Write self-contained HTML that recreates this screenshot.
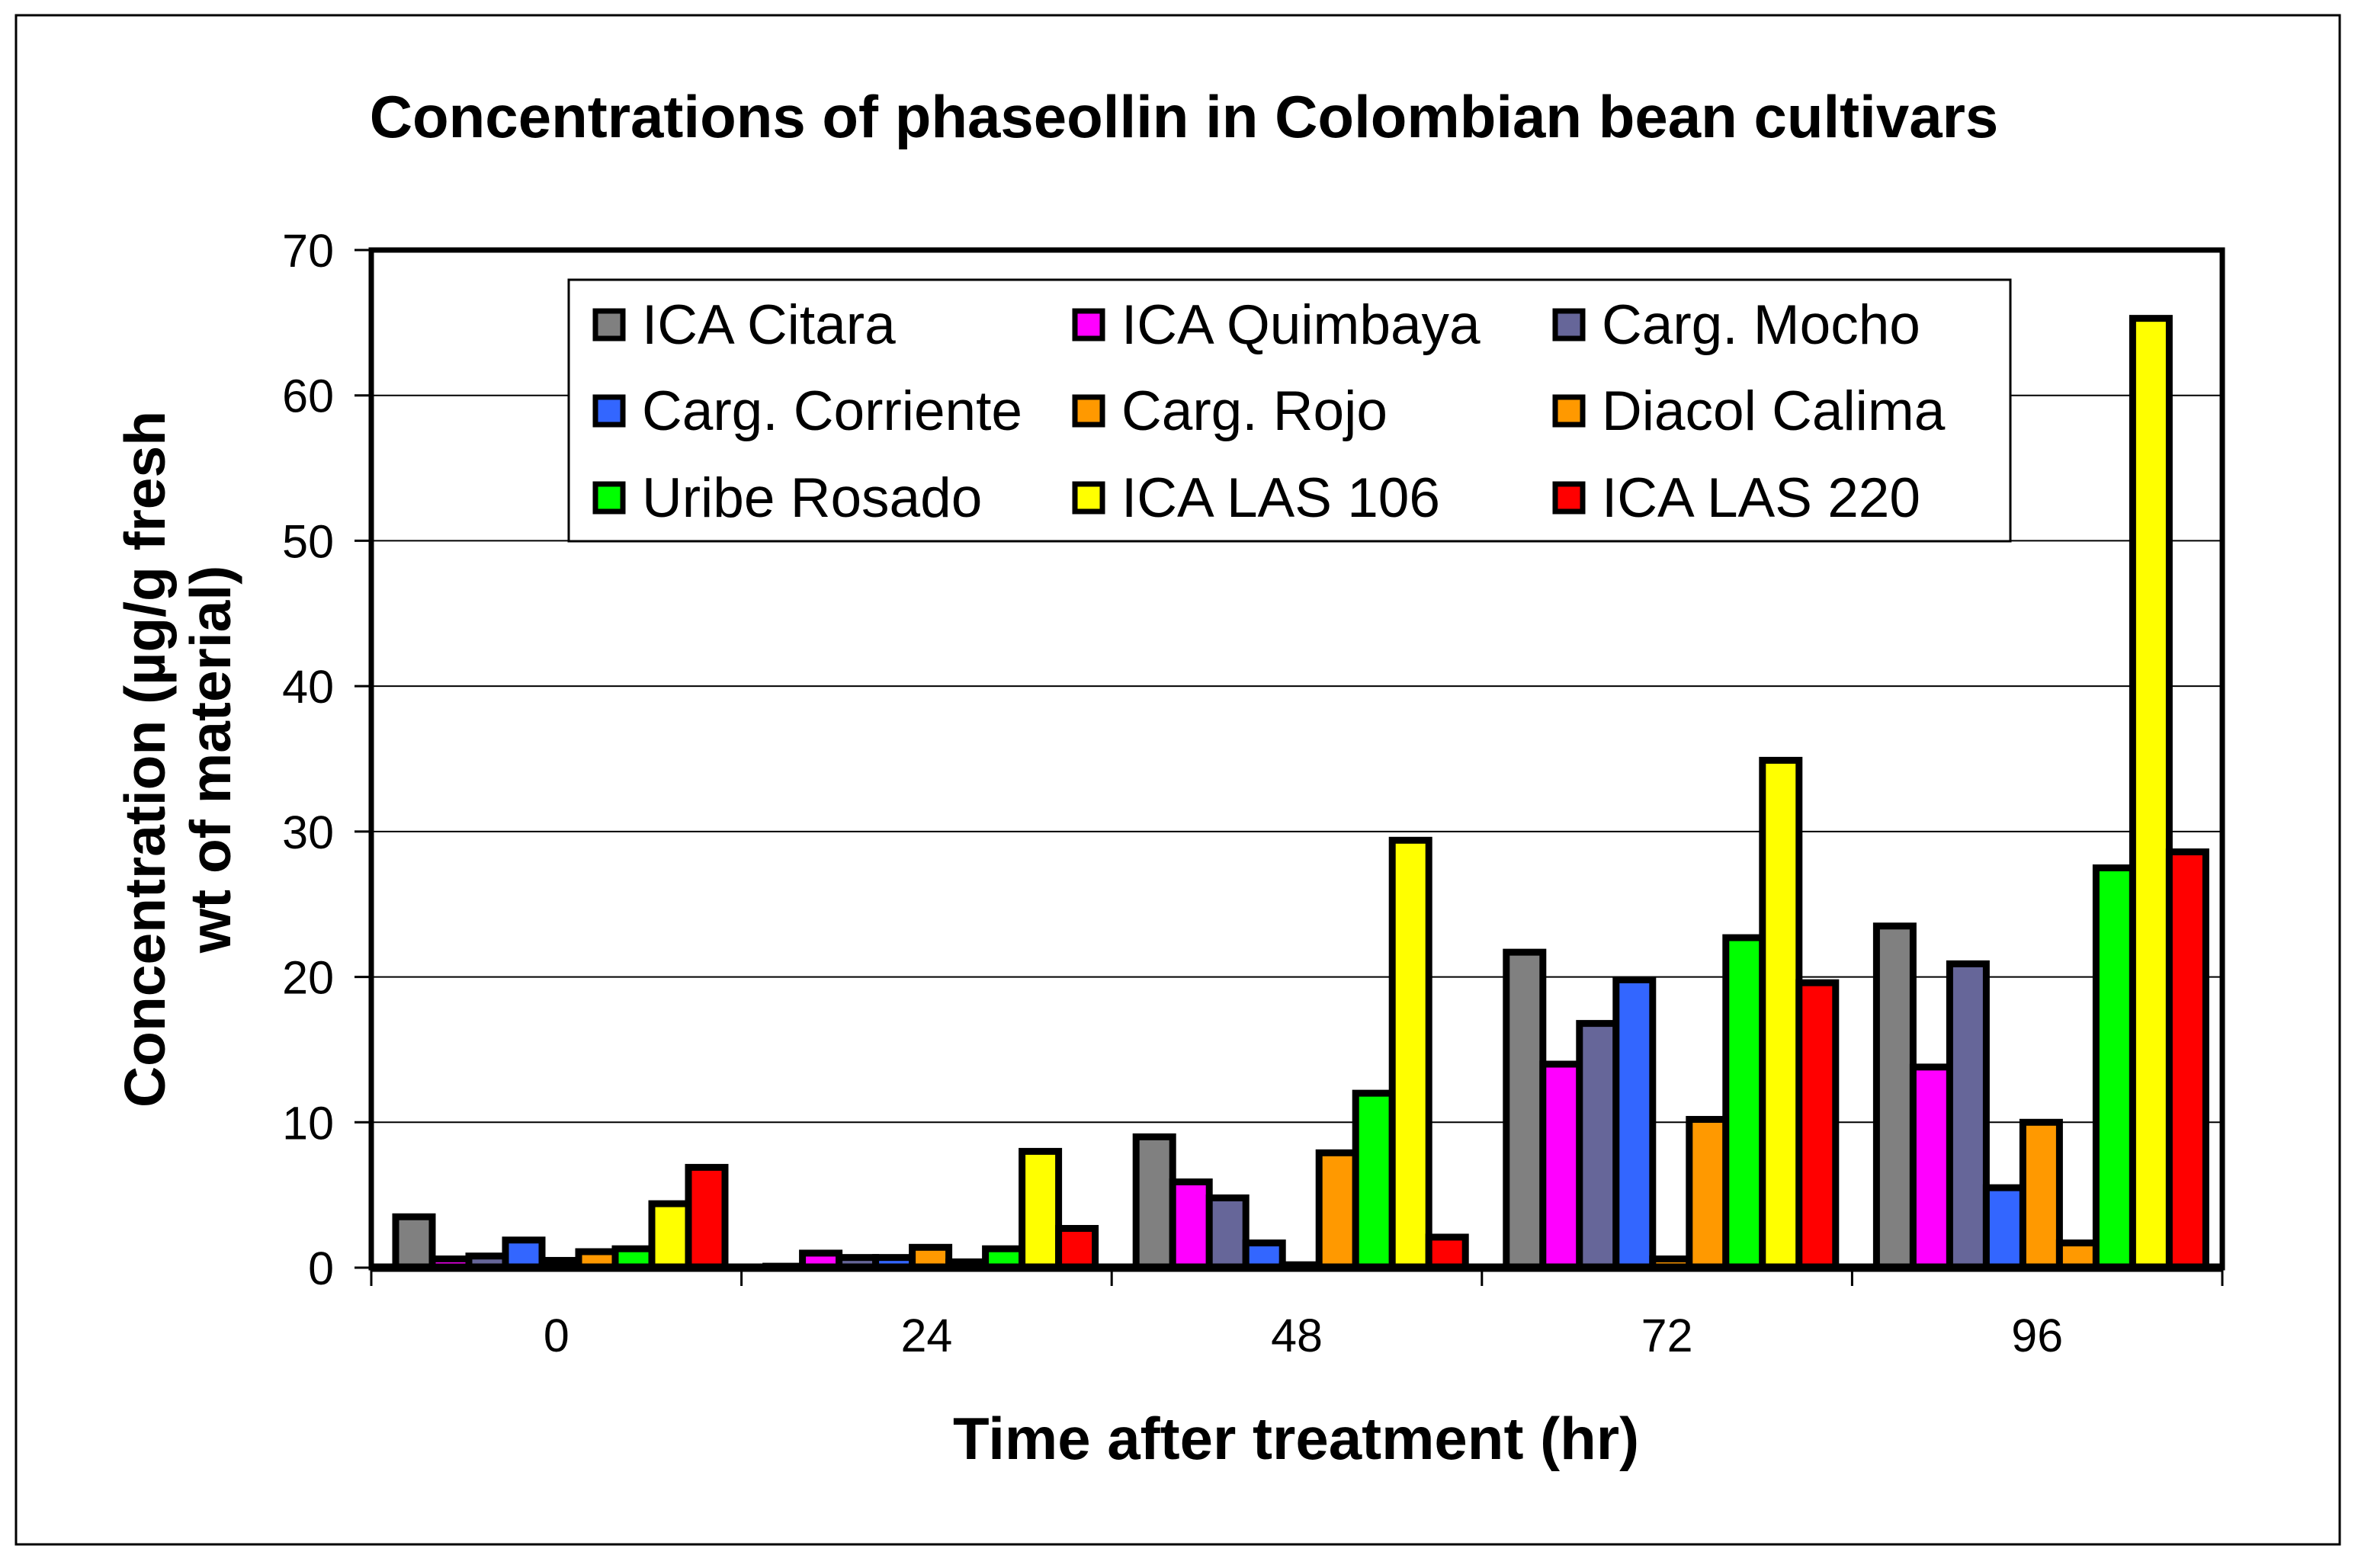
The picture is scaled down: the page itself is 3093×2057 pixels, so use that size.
<!DOCTYPE html>
<html><head><meta charset="utf-8"><style>
html,body{margin:0;padding:0;background:#fff}
svg{display:block;font-family:"Liberation Sans",Arial,sans-serif}
</style></head><body>
<svg id="chart" width="3093" height="2057" viewBox="0 0 3093 2057" xmlns="http://www.w3.org/2000/svg">
<rect x="21" y="20" width="3048" height="2006" fill="#fff" stroke="#000" stroke-width="3"/>
<text x="1553" y="180" font-size="78" font-weight="bold" text-anchor="middle">Concentrations of phaseollin in Colombian bean cultivars</text>
<g id="grid"></g>
<g id="bars"></g>
<g id="axes"></g>
<g transform="translate(236,996) rotate(-90)">
<text x="0" y="-20" font-size="75" font-weight="bold" text-anchor="middle">Concentration (µg/g fresh</text>
<text x="0" y="66" font-size="75" font-weight="bold" text-anchor="middle">wt of material)</text>
</g>
<text x="1700" y="1914" font-size="78" font-weight="bold" text-anchor="middle">Time after treatment (hr)</text>
<g id="legend"></g>
</svg>
<script>
const categories = ["0","24","48","72","96"];
const seriesNames = ["ICA Citara","ICA Quimbaya","Carg. Mocho","Carg. Corriente","Carg. Rojo","Diacol Calima","Uribe Rosado","ICA LAS 106","ICA LAS 220"];
const seriesColors = ["#808080","#ff00ff","#666699","#3366ff","#ff9900","#ff9900","#00ff00","#ffff00","#ff0000"];
const icaCitara = [3.5,0.1,9.0,21.7,23.5];
const icaQuimbaya = [0.6,1.0,5.9,14.0,13.8];
const cargMocho = [0.8,0.7,4.8,16.8,20.9];
const cargCorriente = [1.9,0.7,1.7,19.8,5.5];
const cargRojo = [0.5,1.4,0.2,0.6,10.0];
const diacolCalima = [1.1,0.4,7.9,10.2,1.7];
const uribeRosado = [1.3,1.3,12.0,22.7,27.5];
const icaLas106 = [4.4,8.0,29.4,34.9,65.3];
const icaLas220 = [6.9,2.7,2.1,19.6,28.6];
const yTicks = [0,10,20,30,40,50,60,70];
const series = [icaCitara,icaQuimbaya,cargMocho,cargCorriente,cargRojo,diacolCalima,uribeRosado,icaLas106,icaLas220];

const NS="http://www.w3.org/2000/svg";
const L=487,R=2915,T=328,B=1663,yMax=70;
const y=v=>B-(v/yMax)*(B-T);
const gw=(R-L)/categories.length;
const x=i=>L+i*gw;
function mk(tag,attrs,parent){const e=document.createElementNS(NS,tag);for(const k in attrs)e.setAttribute(k,attrs[k]);parent.appendChild(e);return e;}
const grid=document.getElementById('grid'),bars=document.getElementById('bars'),axes=document.getElementById('axes'),legend=document.getElementById('legend');
yTicks.forEach(t=>{
  if(t>0&&t<yMax){const g=mk('line',{x1:L,x2:R,y1:y(t),y2:y(t),stroke:'#000','stroke-width':2},grid);
  
  }
  const tk=mk('line',{x1:L-22,x2:L,y1:y(t),y2:y(t),stroke:'#000','stroke-width':3},axes);
  
  
  const lb=mk('text',{x:438,y:y(t)+22,'font-size':61,'text-anchor':'end'},axes);
  lb.textContent=t;
  
  
});
const bw=48,off=32;
series.forEach((s,j)=>{
  s.forEach((v,i)=>{
    const bx=x(i)+off+j*bw, top=y(v);
    const r=mk('rect',{x:bx,y:top,width:bw,height:B-top,fill:seriesColors[j],stroke:'#000','stroke-width':9},bars);
    
    
  });
});
const fr=mk('rect',{x:L,y:T,width:R-L,height:B-T,fill:'none',stroke:'#000','stroke-width':7},axes);


const bl=mk('line',{x1:L,x2:R,y1:B,y2:B,stroke:'#000','stroke-width':11},axes);


for(let i=0;i<=categories.length;i++){
  const tk=mk('line',{x1:x(i),x2:x(i),y1:B,y2:B+24,stroke:'#000','stroke-width':3},axes);
  
  
}
categories.forEach((c,i)=>{
  const lb=mk('text',{x:x(i)+gw/2,y:1773,'font-size':61,'text-anchor':'middle'},axes);
  lb.textContent=c;
  
  
});
const lbg=mk('rect',{x:746,y:367,width:1891,height:343,fill:'#fff',stroke:'#000','stroke-width':3},legend);


const colX=[777,1406,2036],rowY=[426,539,653];
seriesNames.forEach((n,j)=>{
  const cx=colX[j%3],cy=rowY[Math.floor(j/3)];
  const sw=mk('rect',{x:cx+4,y:cy-18,width:36,height:36,fill:seriesColors[j],stroke:'#000','stroke-width':7},legend);
  
  
  const t=mk('text',{x:cx+65,y:cy+25,'font-size':73},legend);
  t.textContent=n;
  
  
});
</script>
</body></html>
